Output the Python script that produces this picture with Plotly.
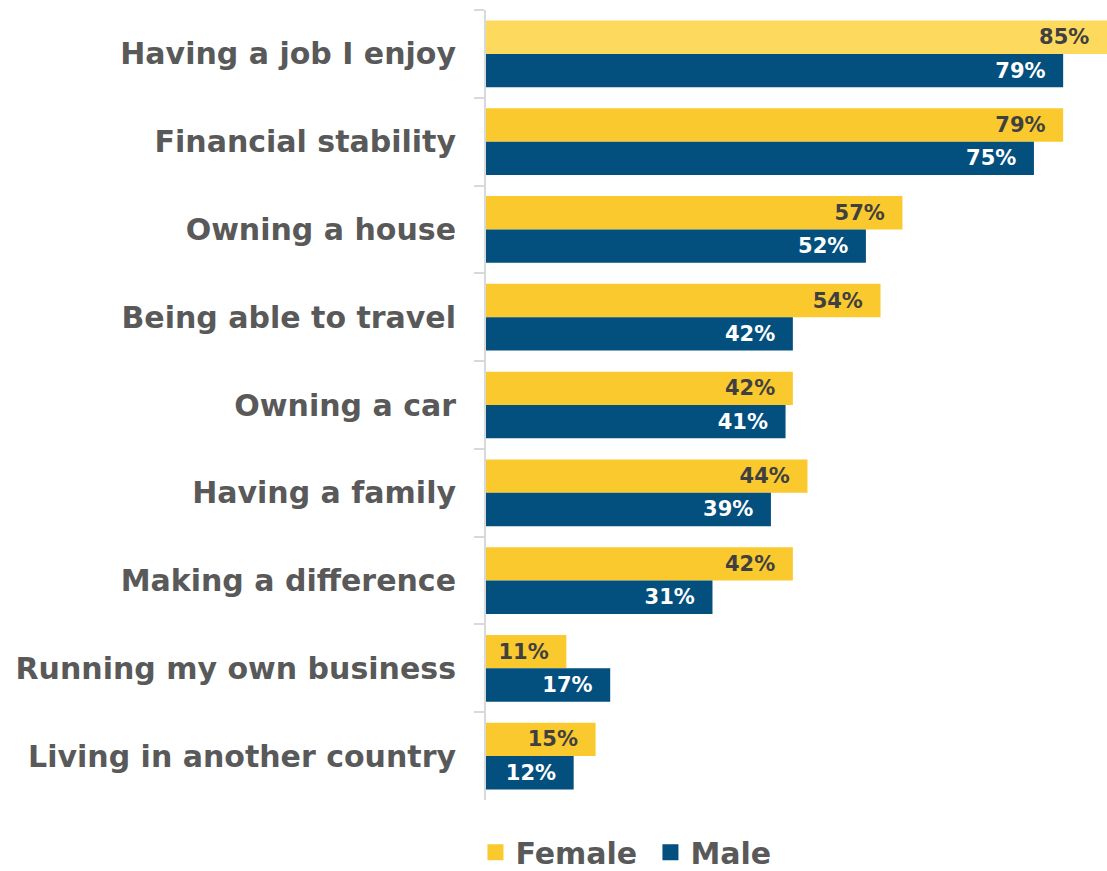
import plotly.graph_objects as go

categories = [
    "Having a job I enjoy",
    "Financial stability",
    "Owning a house",
    "Being able to travel",
    "Owning a car",
    "Having a family",
    "Making a difference",
    "Running my own business",
    "Living in another country",
]
female = [85, 79, 57, 54, 42, 44, 42, 11, 15]
male = [79, 75, 52, 42, 41, 39, 31, 17, 12]

YELLOW = "#F9C92E"
YELLOW_LIGHT = "#FDDA5E"
NAVY = "#034F7E"
GREY_TEXT = "#595959"
FONT = "DejaVu Sans"
PAD = "\u00a0\u00a0"  # breathing room between value label and bar end

female_colors = [YELLOW_LIGHT] + [YELLOW] * (len(female) - 1)

fig = go.Figure()
fig.add_trace(go.Bar(
    y=categories, x=female, orientation="h", name="Female",
    marker=dict(color=female_colors, line=dict(width=0)),
    texttemplate="%{x}%" + PAD, textposition="inside",
    insidetextanchor="end", constraintext="none",
    textfont=dict(family=FONT, size=21, color="#404040", weight="bold"),
    showlegend=False,
))
fig.add_trace(go.Bar(
    y=categories, x=male, orientation="h", name="Male",
    marker=dict(color=NAVY, line=dict(width=0)),
    texttemplate="%{x}%" + PAD, textposition="inside",
    insidetextanchor="end", constraintext="none",
    textfont=dict(family=FONT, size=21, color="white", weight="bold"),
    showlegend=False,
))

# legend entries with larger square swatches
for name, col in [("Female", YELLOW), ("Male", NAVY)]:
    fig.add_trace(go.Scatter(
        x=[None], y=[None], mode="markers", name=name,
        marker=dict(symbol="square", size=19, color=col),
    ))

fig.update_layout(
    width=1107, height=871,
    margin=dict(l=486, r=0, t=10, b=71, autoexpand=False),
    paper_bgcolor="white", plot_bgcolor="white",
    barmode="group", bargap=0.24, bargroupgap=0,
    uniformtext=dict(minsize=21, mode="show"),
    legend=dict(
        orientation="h", x=-0.017, xanchor="left", xref="paper",
        y=-0.066, yanchor="middle",
        font=dict(family=FONT, size=30, color=GREY_TEXT, weight="bold"),
        itemwidth=30, tracegroupgap=0,
        entrywidth=130, entrywidthmode="pixels",
    ),
)
fig.update_xaxes(range=[0, 85], visible=False, fixedrange=True)
fig.update_yaxes(
    categoryorder="array", categoryarray=categories, autorange="reversed",
    showline=True, linecolor="#D9D9D9", linewidth=2,
    ticks="outside", tickson="boundaries", ticklen=10, tickcolor="#D9D9D9",
    tickwidth=2, ticklabelstandoff=22,
    tickfont=dict(family=FONT, size=30, color=GREY_TEXT, weight="bold"),
    showgrid=False,
)

fig.write_html("out.html")
